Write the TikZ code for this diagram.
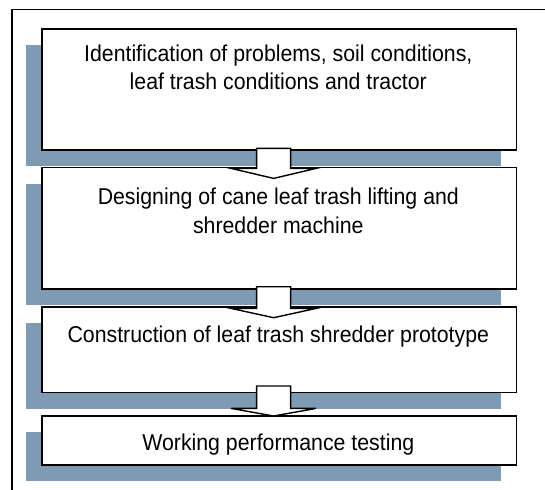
\documentclass[tikz,border=0pt]{standalone}
\usepackage{fontspec}
\setmainfont{Liberation Sans}
\newfontfamily\stagefont[FakeStretch=0.93]{Liberation Sans}
\usetikzlibrary{calc,shadows}
\definecolor{shadowc}{RGB}{127,154,179}
\newcommand\blockarr[3]{%
  \draw[blockarrow] ($(#1)+(-17,0)$) -- ($(#1)+(-17,#2)$) -- ($(#1)+(-42.5,#2)$)
    -- ($(#1)+(0,#2+#3)$) -- ($(#1)+(42.5,#2)$) -- ($(#1)+(17,#2)$)
    -- ($(#1)+(17,0)$) -- cycle;}
\begin{document}
\begin{tikzpicture}[x=1bp,y=-1bp,
  stagebox/.style={draw=black, line width=1.7bp, fill=white, rectangle, inner sep=0pt,
    anchor=north west, minimum width=474.5bp,
    drop shadow={shadow xshift=-15.5bp, shadow yshift=-16.3bp, fill=shadowc, opacity=1, draw=none}},
  stagetext/.style={font=\stagefont\fontsize{22.9bp}{28.3bp}\selectfont, align=center, anchor=base, inner sep=0pt},
  blockarrow/.style={draw=black, line width=1.4bp, fill=white, line join=miter}]
\useasboundingbox (0,0) rectangle (545,490);
\fill[white] (0,0) rectangle (545,490);
% page frame
\draw[line width=1.8bp] (545,9.5) -- (11.7,9.5) -- (11.7,490);
% boxes
\node[stagebox, minimum height=121bp] (b1) at (41,28.3) {};
\node[stagebox, minimum height=121.6bp] (b2) at (41,166.7) {};
\node[stagebox, minimum height=85.7bp] (b3) at (41,306) {};
\node[stagebox, minimum height=49bp] (b4) at (41,415) {};
% texts (base anchor = baseline of the last line)
\node[stagetext] (t1) at (278.3,90) {Identification of problems, soil conditions,\\leaf trash conditions and tractor};
\node[stagetext] (t2) at (278.3,233.3) {Designing of cane leaf trash lifting and\\shredder machine};
\node[stagetext] (t3) at (278.3,342.7) {Construction of leaf trash shredder prototype};
\node[stagetext] (t4) at (278.3,450.7) {Working performance testing};
% arrows
\coordinate (a1) at ($(b1.south)+(-5.5,-2.6)$);
\coordinate (a2) at ($(b2.south)+(-5.5,-3.3)$);
\coordinate (a3) at ($(b3.south)+(-5.5,-7.4)$);
\blockarr{a1}{20}{10}
\blockarr{a2}{21.7}{9.3}
\blockarr{a3}{22.4}{7.6}
\end{tikzpicture}
\end{document}
